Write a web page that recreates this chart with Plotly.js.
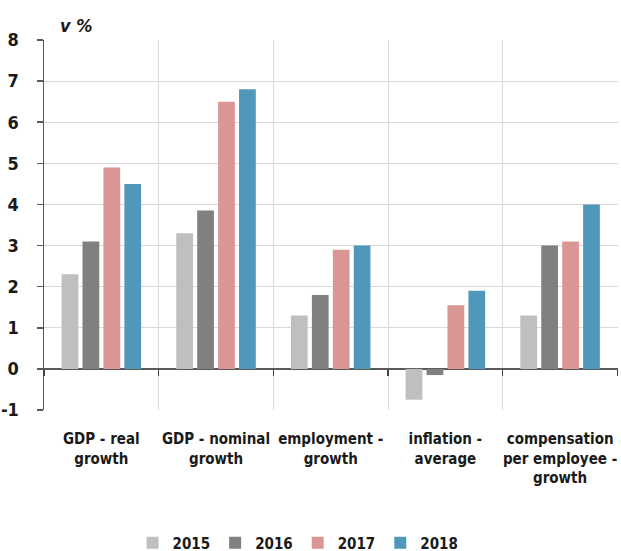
<!DOCTYPE html>
<html>
<head>
<meta charset="utf-8">
<script src="https://cdn.plot.ly/plotly-3.0.1.min.js"></script>
<style>
  html, body { margin: 0; padding: 0; background: #fff; }
  #chart { width: 621px; height: 551px; }
  /* narrow lettering for every label in the chart */
  #chart svg text { font-stretch: condensed !important; }
</style>
</head>
<body>
<div id="chart"></div>
<script>
// Indicators (category labels, line breaks as shown under the axis)
const categories = [
  "GDP - real<br>growth",
  "GDP - nominal<br>growth",
  "employment -<br>growth",
  "inflation -<br>average",
  "compensation<br>per employee -<br>growth"
];

// Values in % per year
const years = ["2015", "2016", "2017", "2018"];
const values2015 = [2.3, 3.3, 1.3, -0.75, 1.3];
const values2016 = [3.1, 3.85, 1.8, -0.15, 3.0];
const values2017 = [4.9, 6.5, 2.9, 1.55, 3.1];
const values2018 = [4.5, 6.8, 3.0, 1.9, 4.0];
const seriesValues = [values2015, values2016, values2017, values2018];
const seriesColors = ["#bfbfbf", "#808080", "#d99694", "#4f98b9"];

// Boundaries between categories, used for the small ticks on the zero line
const boundaryTicks = [-0.5, 0.5, 1.5, 2.5, 3.5, 4.5];
const yTicks = [-1, 0, 1, 2, 3, 4, 5, 6, 7, 8];

const FONT = "'DejaVu Sans Condensed', 'DejaVu Sans', sans-serif";

const traces = years.map((yr, i) => ({
  type: "bar",
  name: yr,
  x: categories,
  y: seriesValues[i],
  marker: { color: seriesColors[i], line: { width: 0 } },
  hoverinfo: "skip"
}));

// Invisible helper trace so the tick-only axis on the zero line is laid out
traces.push({
  type: "scatter",
  mode: "markers",
  x: [boundaryTicks[0], boundaryTicks[boundaryTicks.length - 1]],
  y: [0, 0],
  xaxis: "x2",
  yaxis: "y",
  marker: { opacity: 0 },
  showlegend: false,
  hoverinfo: "skip"
});

const layout = {
  width: 621,
  height: 551,
  margin: { l: 44, r: 3, t: 40, b: 141 },
  paper_bgcolor: "#ffffff",
  plot_bgcolor: "#ffffff",
  font: { family: FONT, size: 15, color: "#1a1a1a" },
  barmode: "group",
  bargap: 0.27,
  bargroupgap: 0.2,
  showlegend: true,
  legend: {
    orientation: "h",
    xref: "container",
    yref: "container",
    x: 0.48,
    xanchor: "center",
    y: 8 / 551,
    yanchor: "middle",
    font: { family: FONT, size: 15, color: "#1a1a1a", weight: "bold" },
    itemwidth: 30,
    traceorder: "normal"
  },
  xaxis: {
    type: "category",
    categoryorder: "array",
    categoryarray: categories,
    range: [-0.5, 4.505],
    tickson: "boundaries",
    tickangle: 0,
    ticks: "",
    showgrid: true,
    gridcolor: "#d9d9d9",
    gridwidth: 1,
    showline: false,
    zeroline: false,
    tickfont: { family: FONT, size: 15, color: "#1a1a1a", weight: "bold" },
    ticklabelstandoff: 18,
    fixedrange: true
  },
  xaxis2: {
    overlaying: "x",
    anchor: "free",
    position: 1 / 9,
    side: "bottom",
    range: [-0.5, 4.505],
    tickmode: "array",
    tickvals: boundaryTicks,
    ticks: "outside",
    ticklen: 6,
    tickwidth: 1.5,
    tickcolor: "#404040",
    showticklabels: false,
    showgrid: false,
    zeroline: false,
    showline: false,
    fixedrange: true
  },
  yaxis: {
    range: [-1, 8],
    tickmode: "array",
    tickvals: yTicks,
    ticktext: yTicks.map(v => String(v)),
    ticks: "outside",
    ticklen: 6,
    tickwidth: 1.5,
    tickcolor: "#595959",
    showline: true,
    linecolor: "#595959",
    linewidth: 1.5,
    showgrid: true,
    gridcolor: "#d9d9d9",
    gridwidth: 1,
    zeroline: true,
    zerolinecolor: "#595959",
    zerolinewidth: 1.5,
    tickfont: { family: FONT, size: 18, color: "#1a1a1a", weight: "bold" },
    ticklabelstandoff: 14,
    fixedrange: true
  },
  annotations: [{
    text: "v %",
    xref: "paper",
    yref: "paper",
    x: 0.025,
    y: 1.0,
    xanchor: "left",
    yanchor: "bottom",
    yshift: 2,
    showarrow: false,
    font: { family: FONT, size: 18, color: "#1a1a1a", style: "italic", weight: "bold" }
  }]
};

Plotly.newPlot("chart", traces, layout, { displayModeBar: false, staticPlot: true });
</script>
</body>
</html>
